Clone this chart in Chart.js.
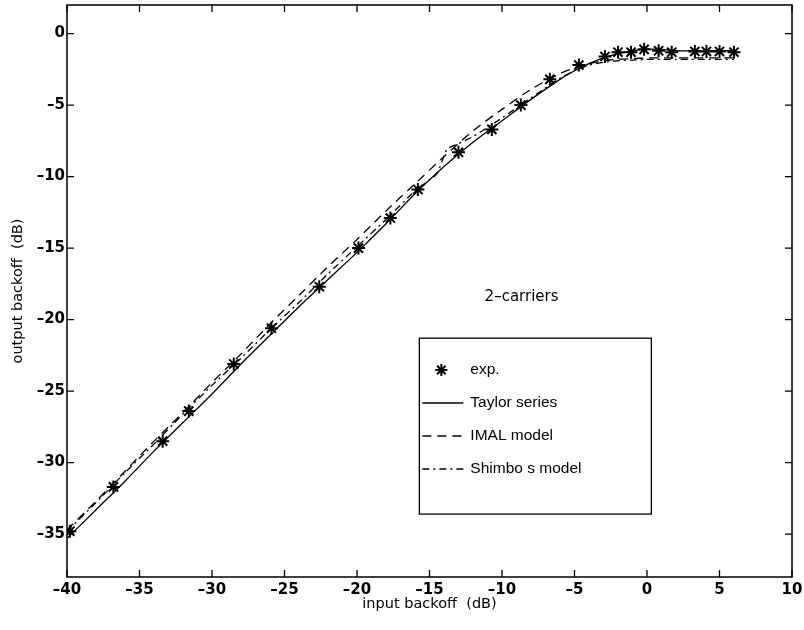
<!DOCTYPE html>
<html>
<head>
<meta charset="utf-8">
<script src="https://cdn.jsdelivr.net/npm/chart.js@4.4.1/dist/chart.umd.min.js"></script>
<style>
  html, body { margin: 0; padding: 0; background: #fff; }
  canvas { display: block; }
</style>
</head>
<body>
<canvas id="myChart" width="804" height="630"></canvas>
<script>
// measured points (stars)
const expX = [-39.8, -36.8, -33.4, -31.6, -28.5, -25.9, -22.6, -19.9, -17.7, -15.8, -13.0, -10.7, -8.7, -6.7, -4.7, -2.9, -2.0, -1.1, -0.2, 0.8, 1.7, 3.3, 4.1, 5.0, 6.0];
const expY = [-34.8, -31.7, -28.5, -26.4, -23.1, -20.6, -17.7, -15.0, -12.9, -10.9, -8.3, -6.7, -5.0, -3.2, -2.2, -1.6, -1.3, -1.3, -1.1, -1.2, -1.3, -1.25, -1.25, -1.25, -1.3];

// Taylor series (solid)
const taylorX = [-40, -38, -36, -34, -32, -30, -28, -26, -24, -22, -20, -18, -16, -14, -12, -10, -8, -6, -5, -4, -3, -2, -1, 0, 1, 2, 3, 4, 5, 6];
const taylorY = [-35.3, -33.3, -31.3, -29.2, -27.2, -25.2, -23.1, -21.1, -19.1, -17.2, -15.3, -13.3, -11.2, -9.3, -7.6, -6.1, -4.6, -3.2, -2.6, -2.1, -1.7, -1.4, -1.2, -1.1, -1.1, -1.2, -1.2, -1.2, -1.2, -1.2];

// IMAL model (dashed)
const imalX = [-40, -38, -36, -34, -32, -30, -28, -26, -24, -22, -20, -18, -16, -14, -12, -10, -8, -6, -5, -4, -3, -2, -1, 0, 1, 2, 3, 4, 5, 6];
const imalY = [-34.7, -32.7, -30.6, -28.5, -26.5, -24.4, -22.4, -20.3, -18.3, -16.3, -14.4, -12.4, -10.5, -8.6, -6.8, -5.3, -3.9, -2.8, -2.4, -2.1, -1.9, -1.8, -1.75, -1.7, -1.7, -1.7, -1.7, -1.7, -1.7, -1.7];

// Shimbo's model (dash-dot)
const shimboX = [-40, -38, -36, -34, -32, -30, -28, -26, -24, -22, -20, -18, -16, -14.5, -13.8, -13, -12, -10, -8, -6, -5, -4, -3, -2, -1, 0, 1, 2, 3, 4, 5, 6];
const shimboY = [-34.8, -32.8, -30.7, -28.7, -26.6, -24.6, -22.7, -20.7, -18.8, -16.8, -14.9, -13.0, -11.0, -9.8, -8.1, -7.7, -7.2, -5.9, -4.5, -3.1, -2.6, -2.2, -2.0, -1.9, -1.85, -1.8, -1.8, -1.8, -1.8, -1.8, -1.8, -1.8];

const xTicks = [-40, -35, -30, -25, -20, -15, -10, -5, 0, 5, 10];
const yTicks = [-35, -30, -25, -20, -15, -10, -5, 0];

const seriesNames = ['exp.', 'Taylor series', 'IMAL model', 'Shimbo s model'];
const noteText = '2\u2013carriers';

function pts(xs, ys) {
  return xs.map((x, i) => ({ x: x, y: ys[i] }));
}
function fmt(v) {
  return v < 0 ? '\u2013' + Math.abs(v) : String(v);
}

const FONT = '"Liberation Sans", Arial, sans-serif';
const WIDE = '"DejaVu Sans", sans-serif';

// inward ticks, top/right border, note and boxed legend
const framePlugin = {
  id: 'frame',
  afterDraw(chart) {
    const ctx = chart.ctx;
    const a = chart.chartArea;
    const xs = chart.scales.x, ys = chart.scales.y;
    ctx.save();
    ctx.strokeStyle = '#000';
    ctx.lineWidth = 1.5;
    ctx.strokeRect(a.left, a.top, a.right - a.left, a.bottom - a.top);
    ctx.lineWidth = 1.3;
    const tl = 7;
    xTicks.forEach(v => {
      const p = xs.getPixelForValue(v);
      ctx.beginPath();
      ctx.moveTo(p, a.bottom); ctx.lineTo(p, a.bottom - tl);
      ctx.moveTo(p, a.top); ctx.lineTo(p, a.top + tl);
      ctx.stroke();
    });
    yTicks.forEach(v => {
      const p = ys.getPixelForValue(v);
      ctx.beginPath();
      ctx.moveTo(a.left, p); ctx.lineTo(a.left + tl, p);
      ctx.moveTo(a.right, p); ctx.lineTo(a.right - tl, p);
      ctx.stroke();
    });

    // note
    ctx.fillStyle = '#000';
    ctx.font = '15px ' + WIDE;
    ctx.textBaseline = 'middle';
    ctx.textAlign = 'left';
    ctx.fillText(noteText, xs.getPixelForValue(-11.2), ys.getPixelForValue(-18.4));

    // legend box
    const bx = xs.getPixelForValue(-15.7), bx2 = xs.getPixelForValue(0.3);
    const by = ys.getPixelForValue(-21.3), by2 = ys.getPixelForValue(-33.6);
    ctx.fillStyle = '#fff';
    ctx.fillRect(bx, by, bx2 - bx, by2 - by);
    ctx.lineWidth = 1.3;
    ctx.strokeRect(bx, by, bx2 - bx, by2 - by);
    const rows = [370, 403, 436, 469];
    chart.data.datasets.forEach((ds, i) => {
      const yy = rows[i];
      ctx.strokeStyle = '#000';
      ctx.fillStyle = '#000';
      if (i === 0) {
        const cx = bx + 22, r = 6;
        ctx.lineWidth = 2;
        ctx.beginPath();
        for (let k = 0; k < 4; k++) {
          const ang = k * Math.PI / 4;
          ctx.moveTo(cx - r * Math.cos(ang), yy - r * Math.sin(ang));
          ctx.lineTo(cx + r * Math.cos(ang), yy + r * Math.sin(ang));
        }
        ctx.stroke();
      } else {
        ctx.lineWidth = ds.borderWidth;
        ctx.setLineDash(ds.borderDash || []);
        ctx.beginPath();
        ctx.moveTo(bx + 3, yy); ctx.lineTo(bx + 44, yy);
        ctx.stroke();
        ctx.setLineDash([]);
      }
      ctx.font = '15.5px ' + FONT;
      ctx.fillText(ds.label, bx + 51, yy);
    });
    ctx.restore();
  }
};

const data = {
  datasets: [
    {
      label: seriesNames[0],
      data: pts(expX, expY),
      showLine: false,
      pointStyle: 'star',
      pointRadius: 6.5,
      pointBorderWidth: 2,
      borderColor: '#000',
      backgroundColor: '#000'
    },
    {
      label: seriesNames[1],
      data: pts(taylorX, taylorY),
      showLine: true,
      pointRadius: 0,
      borderWidth: 1.3,
      borderColor: '#000',
      tension: 0.3
    },
    {
      label: seriesNames[2],
      data: pts(imalX, imalY),
      showLine: true,
      pointRadius: 0,
      borderWidth: 1.3,
      borderDash: [9, 6],
      borderColor: '#000',
      tension: 0.3
    },
    {
      label: seriesNames[3],
      data: pts(shimboX, shimboY),
      showLine: true,
      pointRadius: 0,
      borderWidth: 1.3,
      borderDash: [7, 4, 2, 4],
      borderColor: '#000',
      tension: 0.2
    }
  ]
};

const config = {
  type: 'scatter',
  data: data,
  options: {
    responsive: false,
    animation: false,
    devicePixelRatio: 1,
    layout: { autoPadding: false, padding: { top: 5, right: 12, bottom: 13, left: 0 } },
    plugins: {
      legend: { display: false },
      tooltip: { enabled: false }
    },
    scales: {
      x: {
        type: 'linear',
        min: -40,
        max: 10,
        afterBuildTicks: s => { s.ticks = xTicks.map(v => ({ value: v })); },
        afterFit: s => { s.height = 40; s.paddingLeft = 0; s.paddingRight = 0; },
        grid: { display: false, drawTicks: false },
        border: { display: false },
        ticks: {
          color: '#000',
          padding: 5.5,
          maxRotation: 0,
          font: { family: WIDE, size: 15, weight: 'bold', lineHeight: 1 },
          callback: v => fmt(v)
        },
        title: {
          display: true,
          text: 'input backoff  (dB)',
          color: '#000',
          padding: { top: 0, bottom: 5.75 },
          font: { family: WIDE, size: 14.5, lineHeight: 1 }
        }
      },
      y: {
        type: 'linear',
        min: -38,
        max: 2,
        afterBuildTicks: s => { s.ticks = yTicks.map(v => ({ value: v })); },
        afterFit: s => { s.width = 67; s.paddingTop = 0; s.paddingBottom = 0; },
        grid: { display: false, drawTicks: false },
        border: { display: false },
        ticks: {
          color: '#000',
          padding: 2,
          font: { family: WIDE, size: 15, weight: 'bold' },
          callback: v => fmt(v)
        },
        title: {
          display: true,
          text: 'output backoff  (dB)',
          color: '#000',
          padding: { top: 11, bottom: 0 },
          font: { family: WIDE, size: 14.5, lineHeight: 1 }
        }
      }
    }
  },
  plugins: [framePlugin]
};

const myChart = new Chart(document.getElementById('myChart'), config);
</script>
</body>
</html>
